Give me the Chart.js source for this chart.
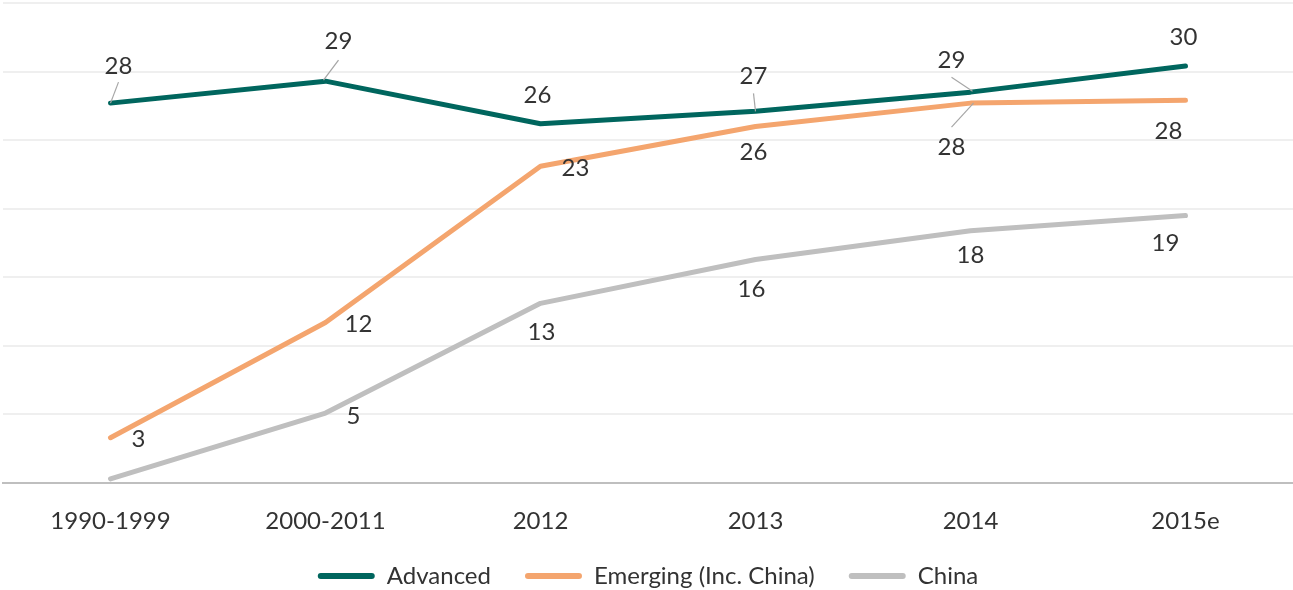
<!DOCTYPE html>
<html>
<head>
<meta charset="utf-8">
<script src="https://cdn.jsdelivr.net/npm/chart.js@4.4.1/dist/chart.umd.min.js"></script>
<style>
  html, body { margin: 0; padding: 0; background: #fff; }
  #wrap { width: 1293px; height: 590px; position: relative; }
</style>
</head>
<body>
<div id="wrap"><canvas id="c"></canvas></div>
<script>
// categories + series
const periods = ['1990-1999', '2000-2011', '2012', '2013', '2014', '2015e'];
const advanced = [27.7, 29.3, 26.2, 27.1, 28.5, 30.4];
const emerging = [3.3, 11.7, 23.1, 26.0, 27.7, 27.9];
const china = [0.3, 5.1, 13.1, 16.3, 18.4, 19.5];

// labels shown next to the points (rounded as in the source); null = no label
const advancedLabels = ['28', '29', '26', '27', '29', '30'];
const emergingLabels = ['3', '12', '23', '26', '28', '28'];
const chinaLabels = [null, '5', '13', '16', '18', '19'];

const FONT = 'Lato, "Open Sans", sans-serif';
const TEXT = '#333333';

// where each label sits relative to its point, plus optional leader line
const labelPlacement = [
  [
    { dx: 8, dy: -37, lead: [0, 0, 8, -21] },
    { dx: 13, dy: -40, lead: [-2, -1, 13, -21] },
    { dx: -3, dy: -28 },
    { dx: -2, dy: -35, lead: [0, 0, -2, -18] },
    { dx: -19, dy: -32, lead: [2, -1, -19, -15] },
    { dx: -2, dy: -29 },
  ],
  [
    { dx: 28, dy: 2 },
    { dx: 33, dy: 2 },
    { dx: 35, dy: 2 },
    { dx: -2, dy: 26 },
    { dx: -19, dy: 44, lead: [3, 0, -19, 24] },
    { dx: -17, dy: 31 },
  ],
  [
    null,
    { dx: 28, dy: 3 },
    { dx: 1, dy: 29 },
    { dx: -4, dy: 30 },
    { dx: 0, dy: 25 },
    { dx: -20, dy: 28 },
  ],
];

const pointLabels = {
  id: 'pointLabels',
  afterDatasetsDraw(chart) {
    const { ctx } = chart;
    const texts = [advancedLabels, emergingLabels, chinaLabels];
    ctx.save();
    ctx.font = '24px ' + FONT;
    ctx.textAlign = 'center';
    ctx.textBaseline = 'middle';
    chart.data.datasets.forEach((ds, i) => {
      const meta = chart.getDatasetMeta(i);
      meta.data.forEach((pt, j) => {
        const t = texts[i][j];
        const p = labelPlacement[i][j];
        if (t == null || !p) return;
        if (p.lead) {
          ctx.strokeStyle = '#a6a6a6';
          ctx.lineWidth = 1.2;
          ctx.beginPath();
          ctx.moveTo(pt.x + p.lead[0], pt.y + p.lead[1]);
          ctx.lineTo(pt.x + p.lead[2], pt.y + p.lead[3]);
          ctx.stroke();
        }
        ctx.fillStyle = TEXT;
        ctx.fillText(t, pt.x + p.dx, pt.y + p.dy);
      });
    });
    ctx.restore();
  },
};

const lineStyle = (colour) => ({
  borderColor: colour,
  backgroundColor: colour,
  borderWidth: 5,
  borderCapStyle: 'round',
  borderJoinStyle: 'round',
  pointRadius: 0,
  pointHoverRadius: 0,
  tension: 0,
  fill: false,
});

new Chart(document.getElementById('c'), {
  type: 'line',
  data: {
    labels: periods,
    datasets: [
      { label: 'Advanced', data: advanced, ...lineStyle('#00665e') },
      { label: 'Emerging (Inc. China)', data: emerging, ...lineStyle('#f4a56e') },
      { label: 'China', data: china, ...lineStyle('#bfbfbf') },
    ],
  },
  options: {
    responsive: true,
    maintainAspectRatio: false,
    animation: false,
    // negative bottom pulls the legend row down to where the source has it
    layout: { padding: { left: 3, right: 0, top: 3, bottom: -8 } },
    plugins: {
      tooltip: { enabled: false },
      legend: {
        position: 'bottom',
        labels: {
          color: TEXT,
          font: { family: FONT, size: 24 },
          boxWidth: 57,
          boxHeight: 6,
          useBorderRadius: true,
          borderRadius: 3,
          padding: 34,
          generateLabels: (chart) => chart.data.datasets.map((d, i) => ({
            text: d.label,
            fillStyle: d.borderColor,
            strokeStyle: d.borderColor,
            lineWidth: 0,
            borderRadius: 3,
            fontColor: TEXT,
            datasetIndex: i,
          })),
        },
      },
    },
    scales: {
      x: {
        offset: true,
        grid: { display: true, color: 'transparent', drawTicks: false },
        border: { display: true, color: '#bfbfbf', width: 2 },
        ticks: { color: TEXT, font: { family: FONT, size: 24 }, padding: 24, maxRotation: 0 },
        afterFit: (scale) => { scale.height = 47; },
      },
      y: {
        min: 0,
        max: 35,
        ticks: { display: false, stepSize: 5 },
        grid: { color: '#efefef', lineWidth: 2, drawTicks: false },
        border: { display: false },
      },
    },
  },
  plugins: [pointLabels],
});
</script>
</body>
</html>
